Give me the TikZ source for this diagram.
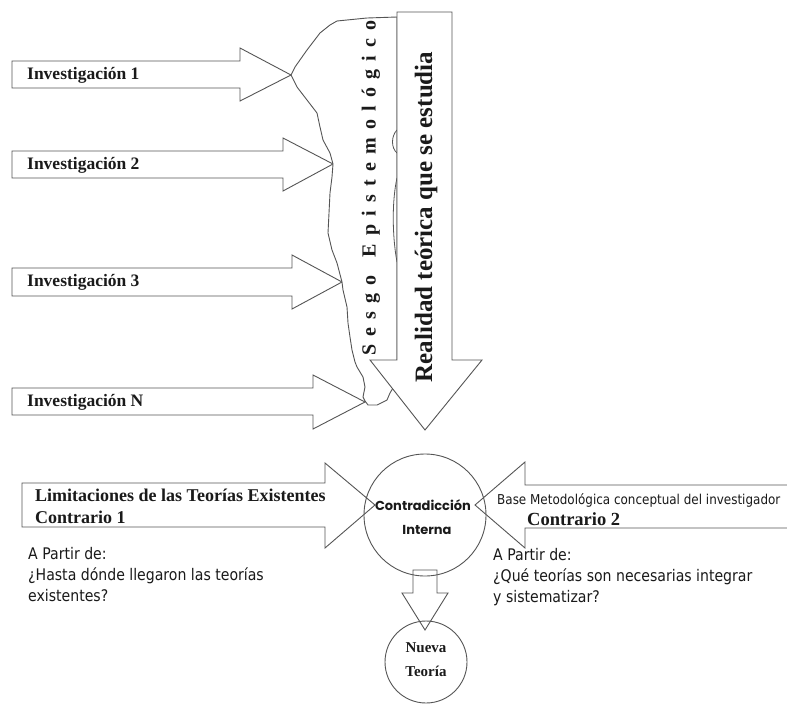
\documentclass[tikz,border=0pt]{standalone}
\usepackage{fontspec}
\setmainfont{Liberation Serif}
\newfontfamily\tah[FakeStretch=0.88]{DejaVu Sans}
\newfontfamily\geo{Poppins}
\definecolor{linegray}{HTML}{555555}
\definecolor{ink}{HTML}{1A1A1A}
\newcommand{\lsp}{\hspace{8.2pt}}
\newcommand{\wsp}{\hspace{18pt}}
\tikzset{
  barrow/.style={draw=linegray, fill=white, line width=0.9pt, line join=miter},
  outline/.style={draw=linegray, fill=white, line width=0.9pt, line join=round},
  ring/.style={circle, draw=linegray, line width=0.9pt, inner sep=0},
  invlabel/.style={anchor=west, inner sep=0, text=ink, font=\bfseries\fontsize{17.5}{21}\selectfont},
  serifbold/.style={anchor=west, inner sep=0, text=ink, font=\bfseries\fontsize{18}{22}\selectfont},
  question/.style={anchor=north west, inner sep=0, align=left, text=ink, font=\tah\fontsize{16}{21}\selectfont},
}
\begin{document}
\begin{tikzpicture}[x=1pt,y=-1pt]
\clip (0,0) rectangle (787,704);
\fill[white] (0,0) rectangle (787,704);

% Investigation arrows
\draw[barrow] (12,61) -- (240,61) -- (240,48) -- (291,75) -- (240,101) -- (240,88) -- (12,88) -- cycle;
\draw[barrow] (12,151) -- (283,151) -- (283,138) -- (333,164) -- (283,191) -- (283,178) -- (12,178) -- cycle;
\draw[barrow] (12,268) -- (292,268) -- (292,255) -- (342,282) -- (292,309) -- (292,296) -- (12,296) -- cycle;
\draw[barrow] (12,388) -- (313,388) -- (313,375) -- (365,402) -- (313,429) -- (313,415) -- (12,415) -- cycle;

\node[invlabel] (inv1) at (27,75) {Investigación 1};
\node[invlabel] (inv2) at (27,165) {Investigación 2};
\node[invlabel] (inv3) at (27,282) {Investigación 3};
\node[invlabel] (invN) at (27,402) {Investigación N};

% Sesgo epistemologico outline
\draw[outline] (397,17) -- (367,18) -- (337,21) -- (330,25) -- (320,33) -- (307,50) -- (295,67) -- (291,75)
  -- (297,87) -- (307,100) -- (317,113) -- (320,127) -- (323,140) -- (330,153) -- (333,164)
  -- (332,177) -- (330,193) -- (329,213) -- (328,233) -- (332,250) -- (337,263) -- (342,282)
  -- (343,290) -- (347,307) -- (348,323) -- (350,337) -- (352,350) -- (355,362) -- (357,367)
  -- (363,377) -- (365,387) -- (363,397) -- (365,401) -- (368,405) -- (377,405) -- (387,400)
  -- (390,393) -- (393,388) -- (397,360) -- cycle;
\draw[linegray, line width=0.8pt] (397,130) .. controls (391,136) and (391,148) .. (397,153);
\draw[linegray, line width=0.8pt] (397,178) .. controls (392,200) and (392,235) .. (397,262);

% Big down arrow
\draw[barrow] (397,12) -- (452,12) -- (452,360) -- (482,360) -- (425,430) -- (370,360) -- (397,360) -- cycle;

\node[rotate=90, inner sep=0, text=ink, font=\bfseries\fontsize{20}{22}\selectfont] (sesgo) at (371,188)
  {S\lsp e\lsp s\lsp g\lsp o\wsp E\lsp p\lsp i\lsp s\lsp t\lsp e\lsp m\lsp o\lsp l\lsp ó\lsp g\lsp i\lsp c\lsp o};
\node[rotate=90, inner sep=0, text=ink, font=\bfseries\fontsize{25}{28}\selectfont] (realidad) at (426,217)
  {Realidad teórica que se estudia};

% Contrario arrows
\draw[barrow] (22,483) -- (325,483) -- (325,463) -- (375,505) -- (325,548) -- (325,527) -- (22,527) -- cycle;
\draw[barrow] (795,485) -- (525,485) -- (525,462) -- (475,505) -- (525,548) -- (525,528) -- (795,528);

% Down arrow to new theory
\draw[barrow] (413,570) -- (437,570) -- (437,593) -- (448,593) -- (425,630) -- (402,593) -- (413,593) -- cycle;

% Circles
\node[ring, minimum size=122pt] (contra) at (425,515) {};
\node[ring, minimum size=82pt] (nueva) at (426,662) {};

\node[inner sep=0, text=ink, font=\geo\bfseries\fontsize{13}{15}\selectfont] (contraA) at (423,505) {Contradicción};
\node[inner sep=0, text=ink, font=\geo\bfseries\fontsize{13}{15}\selectfont] (contraB) at (427,530) {Interna};

\node[inner sep=0, text=ink, font=\bfseries\fontsize{15}{18}\selectfont] (nuevaA) at (426,648) {Nueva};
\node[inner sep=0, text=ink, font=\bfseries\fontsize{15}{18}\selectfont] (nuevaB) at (426,671) {Teoría};

\node[serifbold] (lim) at (35,495) {Limitaciones de las Teorías Existentes};
\node[serifbold] (c1) at (35,517) {Contrario 1};

\node[anchor=west, inner sep=0, text=ink, font=\tah\fontsize{13.6}{16}\selectfont] (base) at (497,500)
  {Base Metodológica conceptual del investigador};
\node[serifbold, font=\bfseries\fontsize{18.5}{22}\selectfont] (c2) at (527,519) {Contrario 2};

\node[question] (q1) at (28,547) {A Partir de:\\¿Hasta dónde llegaron las teorías\\existentes?};
\node[question] (q2) at (493,548) {A Partir de:\\¿Qué teorías son necesarias integrar\\y sistematizar?};
\end{tikzpicture}
\end{document}
